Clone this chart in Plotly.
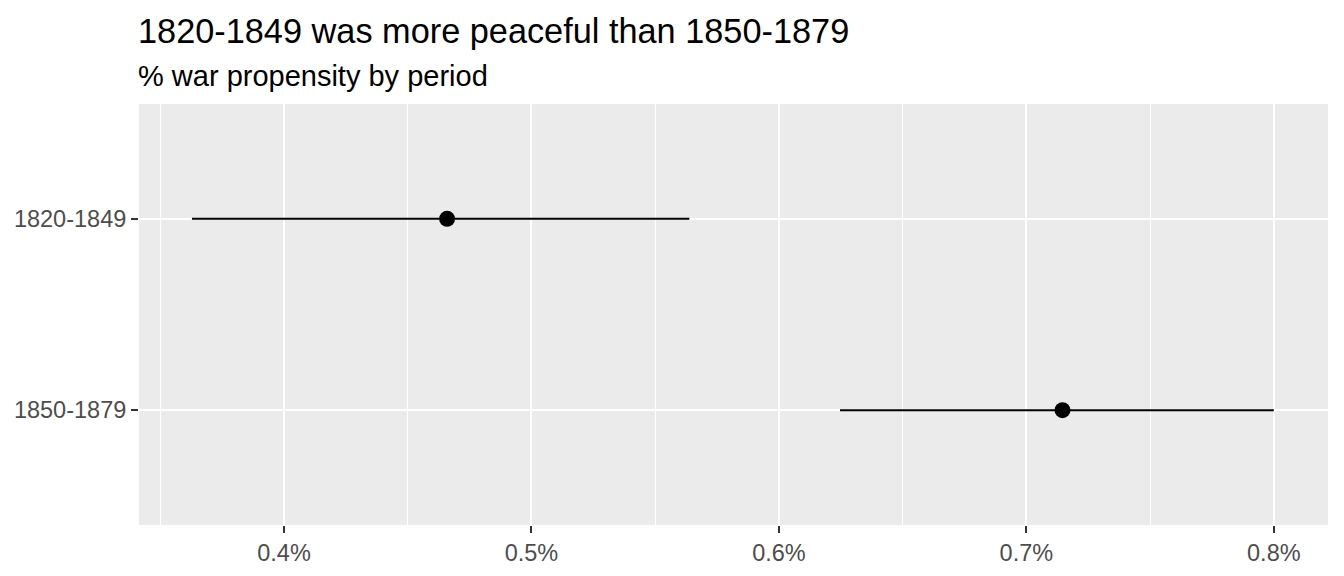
import plotly.graph_objects as go

periods = ["1820-1849", "1850-1879"]
estimate = [0.004659, 0.007146]
lower = [0.003628, 0.006247]
upper = [0.005638, 0.008000]

err_plus = [u - e for u, e in zip(upper, estimate)]
err_minus = [e - l for e, l in zip(estimate, lower)]

FONT = "Liberation Sans, Arial, sans-serif"

fig = go.Figure()
fig.add_trace(go.Scatter(
    x=estimate, y=periods, mode="markers",
    marker=dict(color="black", size=16),
    error_x=dict(type="data", symmetric=False, array=err_plus, arrayminus=err_minus,
                 color="black", thickness=2, width=0),
    showlegend=False, hoverinfo="x+y",
))

# page has an 8px body margin, so the figure is drawn 8px smaller and offset
W, H = 1336, 568
ml, mr, mt, mb = 131, 16, 96, 51
ph = H - mt - mb

fig.update_layout(
    width=W, height=H,
    margin=dict(l=ml, r=mr, t=mt, b=mb, autoexpand=False),
    paper_bgcolor="white", plot_bgcolor="#EBEBEB",
    font=dict(family=FONT, color="#4D4D4D", size=23.5),
    xaxis=dict(
        range=[0.003414, 0.008219], dtick=0.001, tick0=0.004, tickformat=".1%",
        showgrid=True, gridcolor="white", gridwidth=2, automargin=False,
        minor=dict(dtick=0.0005, tick0=0.0035, showgrid=True, gridcolor="white", gridwidth=1, ticks=""),
        ticks="outside", ticklen=7, tickwidth=2, tickcolor="#333333",
        zeroline=False, showline=False, tickfont=dict(size=23.5, color="#4D4D4D"),
    ),
    yaxis=dict(
        type="category", categoryorder="array", categoryarray=periods,
        range=[1.6, -0.6], automargin=False,
        showgrid=True, gridcolor="white", gridwidth=2,
        ticks="outside", ticklen=7, tickwidth=2, tickcolor="#333333",
        zeroline=False, showline=False, tickfont=dict(size=23.5, color="#4D4D4D"),
    ),
    annotations=[
        dict(text="1820-1849 was more peaceful than 1850-1879", xref="paper", yref="paper",
             x=0, xshift=-3, y=1 + (mt - 23.5) / ph, xanchor="left", yanchor="middle", showarrow=False,
             font=dict(size=34.3, color="black", family=FONT)),
        dict(text="% war propensity by period", xref="paper", yref="paper",
             x=0, xshift=-3, y=1 + (mt - 67.5) / ph, xanchor="left", yanchor="middle", showarrow=False,
             font=dict(size=29, color="black", family=FONT)),
    ],
)

fig.write_html("out.html")
